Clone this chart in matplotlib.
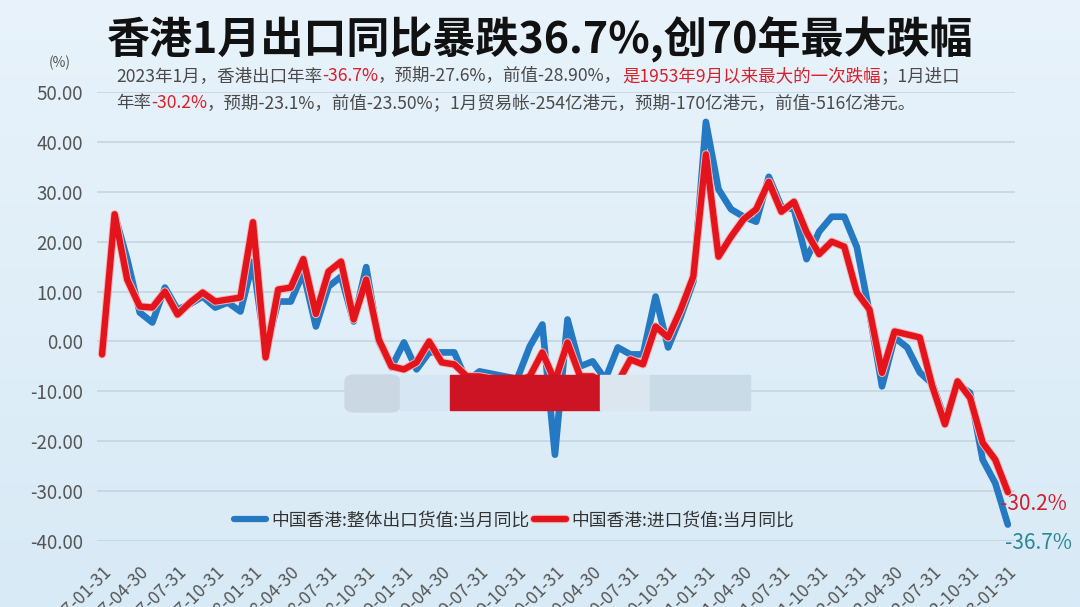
import matplotlib
matplotlib.use("Agg")
import matplotlib.pyplot as plt
import matplotlib.patheffects as pe
from matplotlib.patches import Rectangle, FancyBboxPatch
import numpy as np
import pandas as pd

plt.rcParams["font.family"] = ["Noto Sans CJK SC", "DejaVu Sans"]

# 月度数据 2017-01 ~ 2023-01
months = pd.date_range("2017-01-31", periods=73, freq="ME")
tick_labels = [d.strftime("%Y-%m-%d") for d in months[::3]]

export_yoy = [
    -2.6, 25.5, 16.5, 5.8, 3.8, 10.8, 6.4, 7.5, 9.0, 6.8, 7.8, 6.0,
    16.0, -2.0, 8.0, 8.0, 13.8, 3.0, 11.0, 13.0, 4.0, 14.9, 0.0, -5.2,
    -0.2, -5.6, -2.2, -2.2, -2.2, -8.0, -6.0, -6.5, -7.0, -7.5, -1.0, 3.4,
    -22.7, 4.4, -5.0, -4.0, -7.6, -1.2, -2.6, -2.6, 9.0, -1.2, 5.0, 12.0,
    44.0, 30.5, 26.5, 25.0, 24.0, 33.0, 27.0, 26.5, 16.5, 22.0, 25.0, 25.0,
    18.9, 5.8, -9.0, 0.8, -1.2, -6.2, -8.5, -15.7, -8.6, -10.3, -23.7, -28.4,
    -36.7,
]
import_yoy = [
    -2.6, 25.5, 12.4, 7.0, 6.8, 10.0, 5.4, 7.8, 9.8, 8.0, 8.4, 8.8,
    23.9, -3.2, 10.4, 10.8, 16.5, 5.5, 14.0, 16.0, 4.4, 12.4, 0.4, -5.0,
    -5.6, -4.2, 0.0, -4.2, -4.6, -7.0, -7.0, -7.5, -8.0, -8.0, -7.0, -2.2,
    -8.0, -0.2, -7.0, -7.0, -8.6, -8.2, -3.6, -4.6, 3.0, 0.8, 6.4, 13.0,
    37.5, 17.0, 21.0, 24.5, 26.5, 32.0, 26.0, 28.0, 21.9, 17.5, 20.0, 19.0,
    9.8, 6.4, -6.3, 2.0, 1.4, 0.8, -9.0, -16.6, -8.0, -11.3, -20.3, -23.7,
    -30.2,
]

title = "香港1月出口同比暴跌36.7%,创70年最大跌幅"
GRAY, RED = "#4a4a4a", "#d9202a"
sub_line1 = [
    ("2023年1月，香港出口年率", GRAY), ("-36.7%", RED),
    ("，预期-27.6%，前值-28.90%，", GRAY), ("是1953年9月以来最大的一次跌幅", RED),
    ("；1月进口", GRAY),
]
sub_line2 = [
    ("年率", GRAY), ("-30.2%", RED),
    ("，预期-23.1%，前值-23.50%；1月贸易帐-254亿港元，预期-170亿港元，前值-516亿港元。", GRAY),
]

W, H = 1080, 607
fig = plt.figure(figsize=(W / 100, H / 100), dpi=100)

# 背景渐变
bg = fig.add_axes([0, 0, 1, 1], zorder=-10)
grad = np.linspace(0, 1, 256)[:, None]
bg.imshow(grad, aspect="auto", extent=[0, 1, 0, 1],
          cmap=matplotlib.colors.LinearSegmentedColormap.from_list("bg", ["#e8f3fb", "#d8eaf6"]))
bg.axis("off")

ax = fig.add_axes([97 / W, 1 - 541 / H, (1015 - 97) / W, (541 - 92) / H])
ax.patch.set_alpha(0)
x = np.arange(len(months))

ax.plot(x, export_yoy, color="#2479c2", lw=4.8, solid_capstyle="round",
        solid_joinstyle="round", label="中国香港:整体出口货值:当月同比", zorder=3)
ax.plot(x, import_yoy, color="#e3141c", lw=4.6, solid_capstyle="round",
        solid_joinstyle="round", label="中国香港:进口货值:当月同比", zorder=4,
        path_effects=[pe.Stroke(linewidth=6.0, foreground="#f4b7b7"), pe.Normal()])

ax.set_xlim(-0.4, 72.57)
ax.set_ylim(-40, 50)
ax.set_yticks(np.arange(-40, 51, 10))
ax.set_yticklabels([f"{v:.2f}" for v in np.arange(-40, 51, 10)])
ax.set_xticks(x[::3])
ax.set_xticklabels(tick_labels, rotation=45, ha="right", va="top",
                   rotation_mode="anchor")
ax.tick_params(axis="y", length=0, pad=10, labelsize=13.5, labelcolor="#555555")
ax.tick_params(axis="x", length=0, pad=16, labelsize=12.5, labelcolor="#555555")
ax.grid(axis="y", color="#c5d2dc", lw=1.1)
for s in ax.spines.values():
    s.set_visible(False)

# 末值标注
ax.annotate("-30.2%", (x[-1], import_yoy[-1]), xytext=(-8, -12),
            textcoords="offset pixels", ha="left", va="center",
            fontsize=15, color="#d02030")
ax.annotate("-36.7%", (x[-1], export_yoy[-1]), xytext=(-3, -18),
            textcoords="offset pixels", ha="left", va="center",
            fontsize=15, color="#2a8795")

leg = ax.legend(loc="center", bbox_to_anchor=(514 / W, 1 - 520 / H),
                bbox_transform=fig.transFigure, ncol=2, frameon=False,
                fontsize=12.8, handlelength=1.8, handletextpad=0.3,
                columnspacing=0.3)
for t in leg.get_texts():
    t.set_color("#333333")
for h in leg.get_lines():
    h.set_linewidth(4.5)

# 遮挡块 (原图水印)
for (x0, x1, c) in [(400, 450, "#d6e7f3"), (450, 600, "#cc1424"),
                    (600, 650, "#dbe6ee"), (650, 750, "#c9dbe6")]:
    fig.patches.append(Rectangle((x0 / W, 1 - 410 / H), (x1 - x0) / W, 35 / H,
                                 transform=fig.transFigure, color=c, zorder=20))
fig.patches.append(FancyBboxPatch((345 / W, 1 - 412 / H), 55 / W, 37 / H,
                                  boxstyle="round,pad=0,rounding_size=0.01",
                                  transform=fig.transFigure, color="#cbd8e3", zorder=19))

fig.text(540 / W, 1 - 40 / H, title, ha="center", va="center",
         fontsize=31, fontweight="bold", color="#111111")
fig.text(60 / W, 1 - 63 / H, "(%)", ha="center", va="center",
         fontsize=10, color="#555555")

renderer = fig.canvas.get_renderer()


def draw_runs(x0, y0, runs, size):
    xp = x0
    for s, c in runs:
        t = fig.text(xp / W, 1 - y0 / H, s, ha="left", va="center",
                     fontsize=size, color=c)
        xp += t.get_window_extent(renderer).width


draw_runs(116, 76, sub_line1, 12.6)
draw_runs(116, 103, sub_line2, 12.6)

fig.savefig("out.png", dpi=100)
